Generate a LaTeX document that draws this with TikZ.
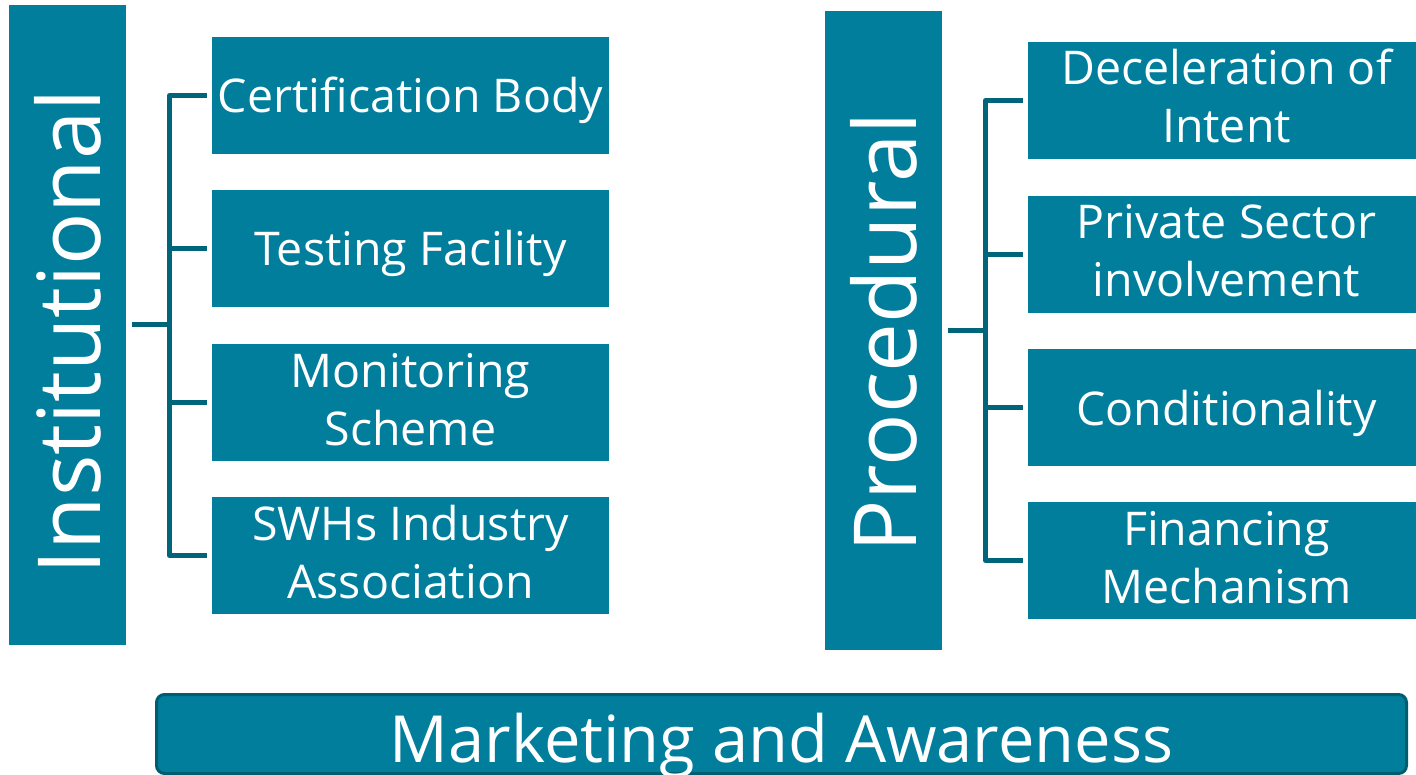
\documentclass[tikz,border=0pt]{standalone}
\usepackage{fontspec}
\setmainfont{Open Sans}
\usepackage{graphicx}
\definecolor{boxc}{HTML}{007E9C}
\definecolor{linec}{HTML}{00657A}
\definecolor{barline}{HTML}{005D70}
\newcommand\oneline[1]{\vbox to 117pt{\offinterlineskip\hsize=397pt\kern76pt\hbox to\hsize{\hss\smash{#1}\hss}\vss}}
\newcommand\twolines[2]{\vbox to 117pt{\offinterlineskip\hsize=397pt\kern43pt\hbox to\hsize{\hss\smash{#1}\hss}\kern58pt\hbox to\hsize{\hss\smash{#2}\hss}\vss}}
\tikzset{
  itembox/.style={fill=boxc, text=white, inner sep=0pt, outer sep=0pt, anchor=north west,
    font=\fontsize{46.5}{58}\selectfont},
  sidebox/.style={fill=boxc, text=white, inner sep=0pt, outer sep=0pt, anchor=north west,
    minimum width=117pt, font=\fontsize{87}{87}\selectfont},
  conn/.style={draw=linec, line width=5pt, line join=round},
  bar/.style={fill=boxc, draw=barline, line width=3pt, rounded corners=8pt, text=white,
    inner sep=0pt, outer sep=0pt, font=\fontsize{65}{65}\selectfont}
}
\begin{document}
\begin{tikzpicture}[x=1pt, y=-1pt]
\useasboundingbox (0,0) rectangle (1416,775);
\clip (0,0) rectangle (1416,775);
% side boxes
\node[sidebox, minimum height=640pt] (inst) at (9,5) {\rotatebox{90}{\kern-14pt Institutional}};
\node[sidebox, minimum height=639pt] (proc) at (825,11) {\rotatebox{90}{\kern-4pt Procedural}};
% left items
\node[itembox] (l1) at (212,37)  {\oneline{Certification Body}};
\node[itembox] (l2) at (212,190) {\oneline{Testing Facility}};
\node[itembox] (l3) at (212,344) {\twolines{Monitoring}{Scheme}};
\node[itembox] (l4) at (212,497) {\twolines{SWHs Industry}{Association}};
% right items
\node[itembox] (r1) at (1028,42)  {\twolines{Deceleration of}{Intent}};
\node[itembox] (r2) at (1028,196) {\twolines{Private Sector}{involvement}};
\node[itembox] (r3) at (1028,349) {\oneline{Conditionality}};
\node[itembox] (r4) at (1028,502) {\twolines{Financing}{Mechanism}};
% bottom bar
\node[bar] (mkt) at (781.5,734) {\vbox to 79pt{\offinterlineskip\hsize=1250pt\kern67.5pt\hbox to\hsize{\hss\smash{Marketing and Awareness}\hss}\vss}};
% left connectors
\coordinate (lv) at ([xshift=-42.5pt]l1.west);
\draw[conn] ([xshift=-5pt]l1.west) -- (lv) |- ([xshift=-5pt]l4.west);
\draw[conn] (lv |- l2.west) -- ([xshift=-5pt]l2.west);
\draw[conn] (lv |- l3.west) -- ([xshift=-5pt]l3.west);
\draw[conn] ([xshift=6pt]inst.east) -- (lv |- inst.east);
% right connectors
\coordinate (rv) at ([xshift=-42.5pt]r1.west);
\draw[conn] ([xshift=-5pt]r1.west) -- (rv) |- ([xshift=-5pt]r4.west);
\draw[conn] (rv |- r2.west) -- ([xshift=-5pt]r2.west);
\draw[conn] (rv |- r3.west) -- ([xshift=-5pt]r3.west);
\draw[conn] ([xshift=6pt]proc.east) -- (rv |- proc.east);
\end{tikzpicture}
\end{document}
